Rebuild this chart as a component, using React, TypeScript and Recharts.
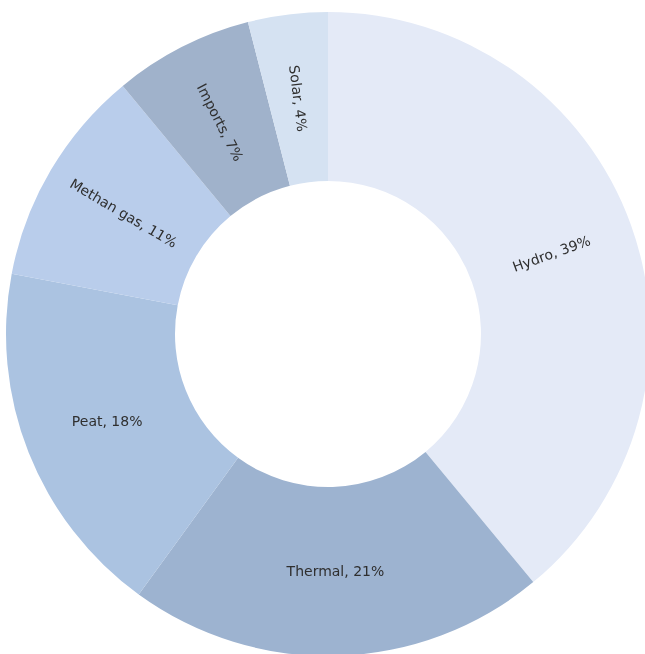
import { PieChart, Pie, Cell } from "recharts";

const sources = ["Hydro", "Thermal", "Peat", "Methan gas", "Imports", "Solar"];
const shares = [39, 21, 18, 11, 7, 4];
const colors = ["#e4eaf7", "#9db3d0", "#abc3e1", "#b9cdeb", "#a0b2cb", "#d5e2f2"];

const data = sources.map((name, i) => ({ name, value: shares[i] }));

const RADIAN = Math.PI / 180;

// label in the middle of the ring; rotated along the radius in the top half
const renderLabel = (props: any) => {
  const { cx, cy, midAngle, innerRadius, outerRadius, name, value } = props;
  const r = (innerRadius + outerRadius) / 2;
  const x = cx + r * Math.cos(-midAngle * RADIAN);
  const y = cy + r * Math.sin(-midAngle * RADIAN);
  let rot = 0;
  if (y < cy) {
    // clockwise angle from top
    const theta = 90 - midAngle;
    rot = theta - 90;
    while (rot > 90) rot -= 180;
    while (rot < -90) rot += 180;
  }
  return (
    <text
      x={x}
      y={y}
      fill="#2f2f2f"
      fontSize={14}
      fontFamily="'DejaVu Sans', sans-serif"
      textAnchor="middle"
      dominantBaseline="central"
      transform={`rotate(${rot} ${x} ${y})`}
    >
      {`${name}, ${value}%`}
    </text>
  );
};

export default function App() {
  // fixed at the window's corner so the ring can run off the right and bottom edges
  return (
    <div style={{ position: "fixed", left: 0, top: 0, width: 645, height: 654 }}>
      <PieChart
        width={645}
        height={654}
        margin={{ top: 0, right: 0, bottom: 0, left: 0 }}
        style={{ overflow: "visible" }}
      >
        <Pie
          data={data}
          dataKey="value"
          nameKey="name"
          cx={328}
          cy={334}
          innerRadius={153}
          outerRadius={322}
          startAngle={90}
          endAngle={-270}
          stroke="none"
          label={renderLabel}
          labelLine={false}
          isAnimationActive={false}
        >
          {data.map((d, i) => (
            <Cell key={d.name} fill={colors[i]} />
          ))}
        </Pie>
      </PieChart>
    </div>
  );
}
